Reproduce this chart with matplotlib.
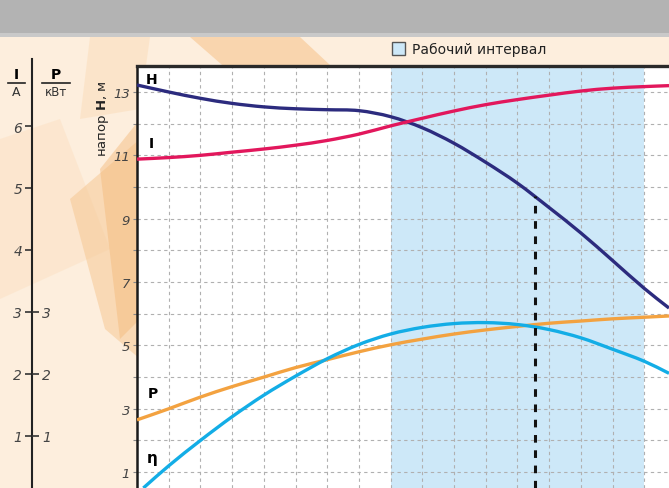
import matplotlib
matplotlib.use("Agg")
import matplotlib.pyplot as plt
from matplotlib.patches import Polygon, Rectangle, PathPatch
from matplotlib.path import Path

plt.rcParams['font.family'] = ['DejaVu Sans']

# ---- data (x in grid units of flow, values in head units "H, м") ----
x_H = [0, 1, 2, 3, 4, 5, 6, 7, 8, 9, 10, 11, 12, 13, 14, 15, 16, 16.78]
H_vals = [13.22, 13.0, 12.8, 12.64, 12.53, 12.47, 12.44, 12.41, 12.22, 11.87,
          11.38, 10.78, 10.12, 9.35, 8.55, 7.68, 6.8, 6.18]

x_I = [0, 1, 2, 3, 4, 5, 6, 7, 8, 9, 10, 11, 12, 13, 14, 15, 16, 16.78]
I_vals = [10.88, 10.93, 11.0, 11.1, 11.2, 11.32, 11.47, 11.67, 11.93, 12.17, 12.4, 12.6,
          12.76, 12.9, 13.03, 13.12, 13.17, 13.2]

x_eta = [0.2, 1, 2, 3, 4, 5, 6, 7, 8, 9, 10, 11, 12, 13, 14, 15, 16, 16.78]
eta_vals = [0.5, 1.2, 2.0, 2.75, 3.43, 4.03, 4.58, 5.03, 5.36, 5.57, 5.69, 5.72,
            5.66, 5.5, 5.24, 4.88, 4.5, 4.12]

x_P = [0, 1, 2, 3, 4, 5, 6, 7, 8, 9, 10, 11, 12, 13, 14, 15, 16, 16.78]
P_vals = [2.65, 3.0, 3.37, 3.7, 4.0, 4.3, 4.55, 4.8, 5.02, 5.2, 5.36, 5.49, 5.6,
          5.7, 5.77, 5.84, 5.89, 5.93]

work_interval = (8, 16)
op_point_x = 12.55
op_point_H = 9.72

H_ticks = [1, 2, 3, 4, 5, 6, 7, 8, 9, 10, 11, 12, 13]
H_labels = ['1', '', '3', '', '5', '', '7', '', '9', '', '11', '', '13']
I_ticks = [1, 2, 3, 4, 5, 6]
P_ticks = [1, 2, 3]

# ---- figure ----
W, Hpx = 669, 489
fig = plt.figure(figsize=(W / 100, Hpx / 100), dpi=100)
fig.patch.set_facecolor('#fdeedd')

def fx(px):
    return px / W

def fy(py):
    return 1 - py / Hpx

# decorative background streaks (behind everything)
bg = [
    ([(190, 38), (300, 38), (420, 150), (330, 160)], '#f7c58f', 0.6),
    ([(90, 38), (150, 38), (140, 110), (80, 120)], '#fbdcb8', 0.5),
    ([(0, 140), (60, 120), (110, 250), (0, 300)], '#fce0c2', 0.5),
    ([(70, 200), (140, 140), (140, 360), (105, 330)], '#f6c894', 0.55),
    ([(100, 170), (140, 120), (140, 320), (120, 340)], '#f4b878', 0.45),
]
for pts, col, a in bg:
    fig.patches.append(Polygon([(fx(x), fy(y)) for x, y in pts], closed=True,
                               transform=fig.transFigure, facecolor=col, edgecolor='none',
                               alpha=a, zorder=-2))

# top grey band
fig.patches.append(Rectangle((0, fy(38)), 1, 1 - fy(38), transform=fig.transFigure,
                             facecolor='#b3b3b3', edgecolor='none', zorder=-1))
fig.patches.append(Rectangle((0, fy(38)), 1, 4 / Hpx, transform=fig.transFigure,
                             facecolor='#c9c9c9', edgecolor='none', zorder=-1))

# ---- main axes ----
ax = fig.add_axes([fx(137), 0, fx(669 - 137), 422 / Hpx])
ax.set_xlim(0, 16.78)
ax.set_ylim(0.5, 13.82)
ax.set_facecolor('white')

ax.axvspan(work_interval[0], work_interval[1], color='#cde8f8', zorder=0.5, lw=0)

grid_kw = dict(color='#b0b0b0', lw=0.8, ls=(0, (3, 3)), zorder=1)
for xv in range(1, 17):
    ax.axvline(xv, **grid_kw)
for yv in H_ticks:
    ax.axhline(yv, **grid_kw)


def smooth_curve(xs, ys, color, z):
    n = len(xs)
    m = []
    for i in range(n):
        if i == 0:
            m.append((ys[1] - ys[0]) / (xs[1] - xs[0]))
        elif i == n - 1:
            m.append((ys[-1] - ys[-2]) / (xs[-1] - xs[-2]))
        else:
            m.append((ys[i + 1] - ys[i - 1]) / (xs[i + 1] - xs[i - 1]))
    verts = [(xs[0], ys[0])]
    codes = [Path.MOVETO]
    for i in range(n - 1):
        dx = xs[i + 1] - xs[i]
        verts += [(xs[i] + dx / 3, ys[i] + m[i] * dx / 3),
                  (xs[i + 1] - dx / 3, ys[i + 1] - m[i + 1] * dx / 3),
                  (xs[i + 1], ys[i + 1])]
        codes += [Path.CURVE4] * 3
    patch = PathPatch(Path(verts, codes), facecolor='none', edgecolor=color, lw=2.4,
                      zorder=z, capstyle='butt')
    ax.add_patch(patch)


smooth_curve(x_H, H_vals, '#2c2b7e', 4)
smooth_curve(x_I, I_vals, '#e2175c', 4)
smooth_curve(x_P, P_vals, '#f3a240', 3)
smooth_curve(x_eta, eta_vals, '#13ade6', 3)
ax.plot([op_point_x, op_point_x], [0.5, op_point_H], color='#111111', lw=2.2,
        ls=(0, (2.5, 2.5)), zorder=5)

ax.text(0.28, 13.4, 'H', fontsize=10, fontweight='bold', ha='left', va='center', zorder=6)
ax.text(0.38, 11.4, 'I', fontsize=10, fontweight='bold', ha='left', va='center', zorder=6)
ax.text(0.35, 3.5, 'P', fontsize=10, fontweight='bold', ha='left', va='center', zorder=6)
ax.text(0.3, 1.45, 'η', fontsize=11, fontweight='bold', ha='left', va='center', zorder=6)

ax.set_xticks([])
ax.set_yticks(H_ticks)
ax.set_yticklabels(H_labels, fontsize=9.5, style='italic', color='#444444')
ax.tick_params(axis='y', length=3, width=0.8, color='#888888', pad=2)
for s in ['right', 'bottom']:
    ax.spines[s].set_visible(False)
ax.spines['left'].set_linewidth(1.8)
ax.spines['left'].set_color('#1a1a1a')
ax.spines['top'].set_linewidth(2.4)
ax.spines['top'].set_color('#2a2a2a')

fig.text(fx(103), fy(119), 'напор $\\mathbf{H}$, м', rotation=90, fontsize=9.5,
         ha='center', va='center', color='#222222')

# ---- left I / P scale ----
I_bottom_px = 489
I_top_px = 60
ax2 = fig.add_axes([fx(32), 0, 0.0005, (I_bottom_px - I_top_px) / Hpx])
ylo = (499 - I_bottom_px) / 62
yhi = (499 - I_top_px) / 62
ax2.set_ylim(ylo, yhi)
ax2.set_xticks([])
ax2.patch.set_visible(False)
for s in ['right', 'bottom', 'top']:
    ax2.spines[s].set_visible(False)
ax2.spines['left'].set_linewidth(1.5)
ax2.spines['left'].set_color('#222222')
ax2.set_yticks(I_ticks)
ax2.set_yticklabels([str(v) for v in I_ticks], fontsize=10, style='italic', color='#444444')
ax2.tick_params(axis='y', direction='out', length=5, width=1.2, color='#333333', pad=2)

ax3 = ax2.twinx()
ax3.set_ylim(ylo, yhi)
ax3.set_xticks([])
for s in ['left', 'bottom', 'top', 'right']:
    ax3.spines[s].set_visible(False)
ax3.set_yticks(P_ticks)
ax3.set_yticklabels([str(v) for v in P_ticks], fontsize=10, style='italic', color='#444444')
ax3.tick_params(axis='y', direction='out', length=5, width=1.2, color='#333333', pad=2)

# unit fractions
fig.text(fx(16), fy(75), 'I', fontsize=10, fontweight='bold', ha='center', va='center')
fig.add_artist(plt.Line2D([fx(8), fx(25)], [fy(84), fy(84)], color='#222222', lw=1.2))
fig.text(fx(16), fy(93), 'A', fontsize=9, ha='center', va='center', color='#333333')
fig.text(fx(56), fy(75), 'P', fontsize=10, fontweight='bold', ha='center', va='center')
fig.add_artist(plt.Line2D([fx(42), fx(70)], [fy(84), fy(84)], color='#222222', lw=1.2))
fig.text(fx(56), fy(93), 'кВт', fontsize=8.5, ha='center', va='center', color='#333333')

# legend
fig.patches.append(Rectangle((fx(392), fy(56)), 13 / W, 13 / Hpx, transform=fig.transFigure,
                             facecolor='#cde8f8', edgecolor='#555555', lw=1.0, zorder=3))
fig.text(fx(412), fy(49.5), 'Рабочий интервал', fontsize=10, ha='left', va='center',
         color='#222222')

fig.savefig('out.png', dpi=100, facecolor=fig.get_facecolor())
